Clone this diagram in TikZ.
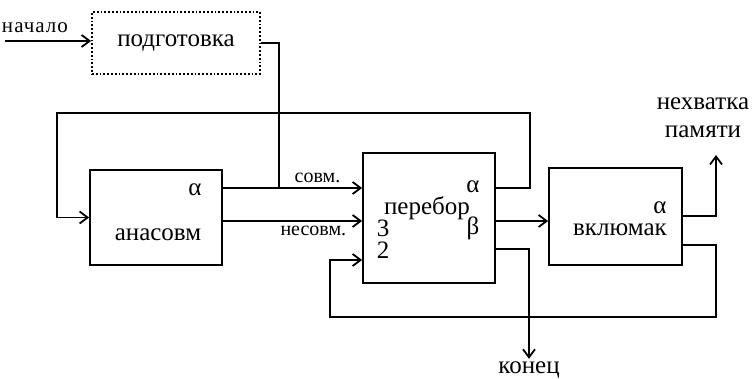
\documentclass[tikz,border=0pt]{standalone}
\usepackage{fontspec}
\setmainfont{Liberation Serif}
\usetikzlibrary{arrows.meta}
\begin{document}
\begin{tikzpicture}[x=0.5pt, y=-0.5pt, line width=0.9pt,
    >={Straight Barb[length=4pt,width=6pt]},
    block/.style={draw, inner sep=0pt},
    txt/.style={font=\fontsize{12.5}{14}\selectfont, inner sep=1pt},
    lbl/.style={font=\fontsize{10}{12}\selectfont, inner sep=2pt}]
  \useasboundingbox (0,0) rectangle (754,379);
  \node[block, txt, densely dotted, minimum width=84pt, minimum height=31pt] (podg) at (176,43) {подготовка};
  \node[block, minimum width=66pt, minimum height=47.5pt] (ana) at (156,217.5) {};
  \node[block, minimum width=66pt, minimum height=65pt] (per) at (429,218) {};
  \node[block, minimum width=66.5pt, minimum height=48.5pt] (vkl) at (615.5,216.5) {};
  \node[txt] (anaA) at (195,190) {α};
  \node[txt] (anaT) at (158,235) {анасовм};
  \node[txt] (perA) at (473,187) {α};
  \node[txt] (perT) at (427,208) {перебор};
  \node[txt] (perB) at (473,228) {β};
  \node[txt] (per3) at (383,228) {3};
  \node[txt] (per2) at (383,250) {2};
  \node[txt] (vklA) at (660,208) {α};
  \node[txt] (vklT) at (620,230) {вклюмак};
  \node[txt] (kon) at (529,370) {конец};
  \node[txt, align=center] (nehv) at (703,118) {нехватка\\памяти};
  \node[lbl, font=\fontsize{10.5}{12}\selectfont\addfontfeature{LetterSpace=5}] (nach) at (35,28) {начало};
  \coordinate (start) at (5,41);
  \coordinate (ysov) at (0,188);
  \coordinate (ynes) at (0,221);
  \coordinate (yp3) at (0,249);
  \coordinate (yin2) at (0,260);
  \coordinate (yv1) at (0,216);
  \coordinate (yv2) at (0,245);
  \coordinate (jp) at (279,188);
  \coordinate (tl) at (57,113);
  \coordinate (tr) at (530,113);
  \coordinate (bl) at (330,317);
  \coordinate (bm) at (529,317);
  \coordinate (br) at (716,317);
  \coordinate (up) at (716,155);
  \draw[->] (start) -- (podg.west |- start);
  \draw (podg.east) -| (jp);
  \draw[->] (ana.east |- ysov) -- node[lbl, above, pos=0.68] {совм.} (per.west |- ysov);
  \draw[->] (ana.east |- ynes) -- node[lbl, below, pos=0.65] {несовм.} (per.west |- ynes);
  \draw[->] (per.east |- ysov) -| (tr) -- (tl) |- (ana.west);
  \draw[->] (per.east |- ynes) -- (vkl.west |- ynes);
  \draw (per.east |- yp3) -| (bm);
  \draw[->] (vkl.east |- yv2) -| (br) -- (bl) |- (per.west |- yin2);
  \draw[->] (bm) -- (kon);
  \draw[->] (vkl.east |- yv1) -| (up);
\end{tikzpicture}
\end{document}
